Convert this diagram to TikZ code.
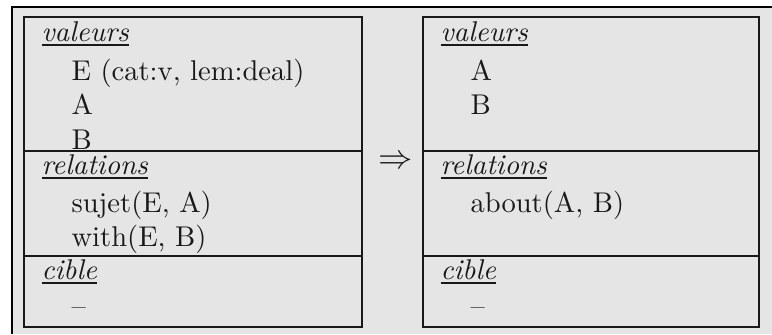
\documentclass[tikz,border=0pt]{standalone}
\newcommand\hdrline[1]{\leavevmode\vtop{\hbox{\textit{#1}}\kern1.0pt\hrule height 0.7pt}}
\begin{document}
\begin{tikzpicture}[x=0.35pt,y=-0.35pt,
  boxline/.style={line width=0.75pt, draw=black!90},
  frameline/.style={line width=0.75pt, draw=black},
  txt/.style={anchor=base west, inner sep=0pt, font=\fontsize{10}{12}\selectfont, text=black!90}]
\useasboundingbox (0,0) rectangle (772,334);
% background frame
\fill[black!10] (12,7) rectangle (772,334);
\coordinate (fbl) at (12,334);
\coordinate (ftl) at (12,7);
\coordinate (ftr) at (772,7);
\draw[frameline] (fbl) -- (ftl) -- (ftr);
% left box texts
\node[txt] (lval) at (41,41) {\hdrline{valeurs}};
\node[txt] (lv1) at (71,80) {E (cat:v, lem:deal)};
\node[txt] (lv2) at (71,114.5) {A};
\node[txt] (lv3) at (71,149.5) {B};
\node[txt] (lrel) at (41,174) {\hdrline{relations}};
\node[txt] (lr1) at (71,212) {sujet(E, A)};
\node[txt] (lr2) at (71,246.5) {with(E, B)};
\node[txt] (lcib) at (41,279) {\hdrline{cible}};
\node[txt] (lc1) at (71,315) {--};
% right box texts
\node[txt] (rval) at (440,41) {\hdrline{valeurs}};
\node[txt] (rv1) at (470,80) {A};
\node[txt] (rv2) at (470,114.5) {B};
\node[txt] (rrel) at (440,174) {\hdrline{relations}};
\node[txt] (rr1) at (470,212) {about(A, B)};
\node[txt] (rcib) at (440,279) {\hdrline{cible}};
\node[txt] (rc1) at (470,315) {--};
% arrow
\node[inner sep=0pt, font=\fontsize{12}{14}\selectfont, text=black!90] (arr) at (396,162) {$\Rightarrow$};
% left box
\coordinate (lt) at (24,17);
\coordinate (lb) at (362,327);
\coordinate (ld1a) at (24,151);
\coordinate (ld1b) at (362,151);
\coordinate (ld2a) at (24,256);
\coordinate (ld2b) at (362,256);
\draw[boxline] (lt) rectangle (lb);
\draw[boxline] (ld1a) -- (ld1b);
\draw[boxline] (ld2a) -- (ld2b);
% right box
\coordinate (rt) at (423,17);
\coordinate (rb) at (759,327);
\coordinate (rd1a) at (423,151);
\coordinate (rd1b) at (759,151);
\coordinate (rd2a) at (423,256);
\coordinate (rd2b) at (759,256);
\draw[boxline] (rt) rectangle (rb);
\draw[boxline] (rd1a) -- (rd1b);
\draw[boxline] (rd2a) -- (rd2b);
\end{tikzpicture}
\end{document}
